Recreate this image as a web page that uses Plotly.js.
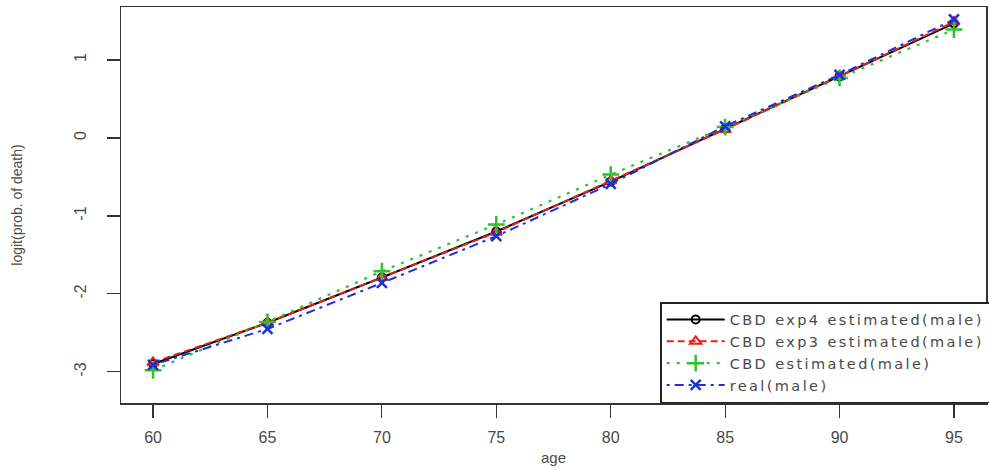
<!DOCTYPE html>
<html>
<head>
<meta charset="utf-8">
<script src="https://cdn.plot.ly/plotly-3.0.1.min.js"></script>
<style>
html,body{margin:0;padding:0;background:#fff;}
#chart{width:989px;height:471px;}
text.legendtext{letter-spacing:2.4px;}
</style>
</head>
<body>
<div id="chart"></div>
<script>
const ages = [60, 65, 70, 75, 80, 85, 90, 95];
const exp4Male = [-2.90, -2.37, -1.79, -1.20, -0.56, 0.12, 0.79, 1.47];
const exp3Male = [-2.88, -2.37, -1.79, -1.21, -0.55, 0.11, 0.79, 1.49];
const cbdMale  = [-2.98, -2.36, -1.71, -1.11, -0.47, 0.14, 0.77, 1.39];
const realMale = [-2.91, -2.45, -1.86, -1.26, -0.59, 0.15, 0.81, 1.52];
const seriesNames = ["CBD exp4 estimated(male)", "CBD exp3 estimated(male)", "CBD estimated(male)", "real(male)"];
const yTicks = [-3, -2, -1, 0, 1];
const xTicks = [60, 65, 70, 75, 80, 85, 90, 95];

const txtColor = '#4a4a4a';
const traces = [
  {x: ages, y: exp4Male, name: seriesNames[0], mode: 'lines+markers',
   line: {color: '#000000', width: 2, dash: 'solid'},
   marker: {symbol: 'circle-open', size: 8, color: '#000000', line: {width: 2, color: '#000000'}}},
  {x: ages, y: exp3Male, name: seriesNames[1], mode: 'lines+markers',
   line: {color: '#e8201c', width: 2, dash: '7px,4px'},
   marker: {symbol: 'triangle-up-open', size: 10, color: '#e8201c', line: {width: 2, color: '#e8201c'}}},
  {x: ages, y: cbdMale, name: seriesNames[2], mode: 'lines+markers',
   line: {color: '#2fbf2f', width: 2.2, dash: '3px,7px'},
   marker: {symbol: 'cross-thin-open', size: 12, color: '#2fbf2f', line: {width: 2.5, color: '#2fbf2f'}}},
  {x: ages, y: realMale, name: seriesNames[3], mode: 'lines+markers',
   line: {color: '#1f2fd8', width: 2, dash: '3px,5px,9px,5px'},
   marker: {symbol: 'x-thin-open', size: 10, color: '#1f2fd8', line: {width: 2.5, color: '#1f2fd8'}}}
];

const layout = {
  width: 989, height: 471,
  margin: {l: 121, r: 3, t: 7, b: 68, autoexpand: false},
  paper_bgcolor: '#ffffff', plot_bgcolor: '#ffffff',
  font: {family: 'Liberation Sans, Arial, sans-serif', color: txtColor},
  showlegend: true,
  legend: {
    x: 1.006, y: 0, xanchor: 'right', yanchor: 'bottom',
    bordercolor: '#222', borderwidth: 1.5, bgcolor: '#ffffff',
    font: {size: 14.5, family: 'DejaVu Sans, sans-serif', color: txtColor},
    tracegroupgap: 0, itemwidth: 58
  },
  xaxis: {
    range: [58.6, 96.4], tickvals: xTicks, ticktext: xTicks.map(String),
    showgrid: false, zeroline: false,
    showline: true, mirror: true, linecolor: '#333', linewidth: 1.5,
    ticks: 'outside', ticklen: 13, tickcolor: '#333', tickwidth: 1.2,
    tickfont: {size: 16, color: txtColor}, ticklabelstandoff: 6,
    title: {text: 'age', font: {size: 15, color: txtColor}, standoff: 8}
  },
  yaxis: {
    range: [-3.40, 1.68], tickvals: yTicks, ticktext: yTicks.map(String),
    showgrid: false, zeroline: false,
    showline: true, mirror: true, linecolor: '#333', linewidth: 1.5,
    ticks: 'outside', ticklen: 13, tickcolor: '#333', tickwidth: 1.2,
    tickangle: -90,
    tickfont: {size: 16, color: txtColor}, ticklabelstandoff: 14,
    title: {text: 'logit(prob. of death)', font: {size: 14, color: txtColor}, standoff: 46}
  }
};

Plotly.newPlot('chart', traces, layout, {staticPlot: true, displayModeBar: false});
</script>
</body>
</html>
